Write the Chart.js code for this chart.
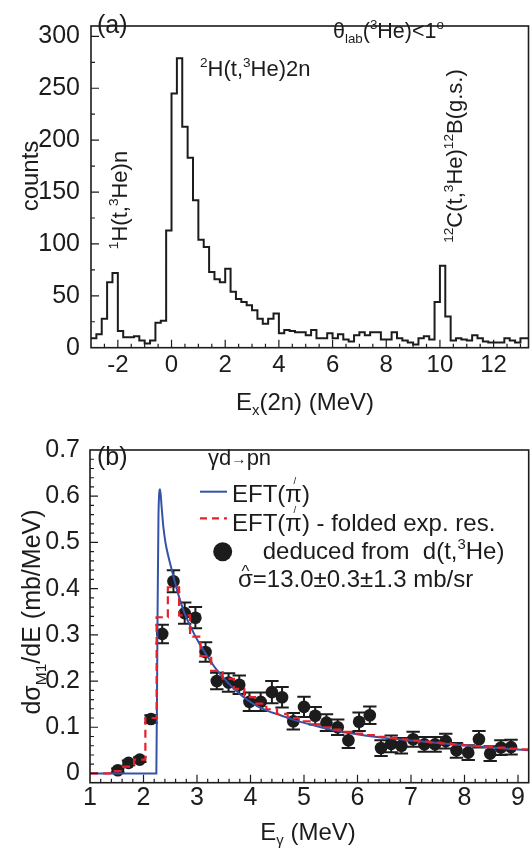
<!DOCTYPE html>
<html>
<head>
<meta charset="utf-8">
<title>2H(t,3He)2n spectrum and gamma d -> pn</title>
<script src="https://cdn.jsdelivr.net/npm/chart.js@4.4.1/dist/chart.umd.min.js"></script>
<style>
  html, body { margin: 0; padding: 0; background: #fff; }
  body { width: 532px; height: 851px; position: relative; overflow: hidden; }
  canvas { position: absolute; left: 0; }
  #chartA { top: 0; }
  #chartB { top: 425px; }
</style>
</head>
<body>
<canvas id="chartA" width="532" height="425"></canvas>
<canvas id="chartB" width="532" height="426"></canvas>
<script>
const FONT = '"Liberation Sans", Arial, Helvetica, sans-serif';
const INK = '#1c1c1c';
const BLUE = '#3453a6';
const RED = '#e5222b';

// (a) counts per 0.2 MeV bin; edges = lower edges plus the last upper edge
const histEdges = [-3.0, -2.8, -2.6, -2.4, -2.2, -2.0, -1.8, -1.6, -1.4, -1.2,
  -1.0, -0.8, -0.6, -0.4, -0.2, 0.0, 0.2, 0.4, 0.6, 0.8,
  1.0, 1.2, 1.4, 1.6, 1.8, 2.0, 2.2, 2.4, 2.6, 2.8,
  3.0, 3.2, 3.4, 3.6, 3.8, 4.0, 4.2, 4.4, 4.6, 4.8,
  5.0, 5.2, 5.4, 5.6, 5.8, 6.0, 6.2, 6.4, 6.6, 6.8,
  7.0, 7.2, 7.4, 7.6, 7.8, 8.0, 8.2, 8.4, 8.6, 8.8,
  9.0, 9.2, 9.4, 9.6, 9.8, 10.0, 10.2, 10.4, 10.6, 10.8,
  11.0, 11.2, 11.4, 11.6, 11.8, 12.0, 12.2, 12.4, 12.6, 12.8,
  13.0, 13.2, 13.4];
const histCounts = [9, 13, 28, 63, 72, 16, 10, 10, 11, 7,
  4, 7, 24, 26, 113, 245, 279, 213, 183, 142,
  104, 97, 73, 66, 63, 76, 54, 47, 44, 41,
  36, 28, 23, 28, 33, 14, 17, 16, 15, 15,
  12, 17, 9, 9, 14, 9, 13, 8, 6, 12,
  15, 12, 15, 15, 8, 8, 15, 9, 7, 5,
  3, 9, 11, 8, 44, 79, 30, 7, 9, 8,
  7, 12, 9, 6, 5, 5, 5, 9, 7, 5,
  9, 9];
const xTicksA = [-2, 0, 2, 4, 6, 8, 10, 12];
const yTicksA = [0, 50, 100, 150, 200, 250, 300];

// (b) deduced d(sigma_M1)/dE
const gammaE = [1.52, 1.72, 1.93, 2.14, 2.35, 2.56, 2.77, 2.97, 3.16, 3.37,
  3.59, 3.79, 3.98, 4.19, 4.40, 4.59, 4.80, 5.00, 5.21, 5.42,
  5.63, 5.83, 6.03, 6.23, 6.44, 6.63, 6.82, 7.04, 7.25, 7.45,
  7.65, 7.85, 8.07, 8.27, 8.48, 8.68, 8.87];
const dSigma = [0.007, 0.023, 0.030, 0.118, 0.302, 0.416, 0.347, 0.337, 0.263, 0.200,
  0.197, 0.192, 0.155, 0.155, 0.176, 0.165, 0.113, 0.144, 0.125, 0.110,
  0.100, 0.072, 0.112, 0.126, 0.055, 0.064, 0.060, 0.074, 0.063, 0.063,
  0.070, 0.050, 0.045, 0.074, 0.043, 0.056, 0.057];
const dSigmaErr = [0.004, 0.005, 0.005, 0.008, 0.020, 0.024, 0.023, 0.023, 0.021, 0.018,
  0.020, 0.020, 0.020, 0.020, 0.024, 0.022, 0.018, 0.022, 0.019, 0.018,
  0.017, 0.017, 0.020, 0.019, 0.017, 0.018, 0.017, 0.016, 0.016, 0.016,
  0.016, 0.016, 0.016, 0.018, 0.016, 0.016, 0.016];
// EFT(pionless) curve
const eftE = [1.0, 2.24, 2.26, 2.28, 2.31, 2.34, 2.37, 2.41, 2.45, 2.53,
  2.62, 2.74, 2.87, 3.03, 3.18, 3.37, 3.59, 3.81, 4.06, 4.31,
  4.56, 4.81, 5.02, 5.39, 5.77, 6.14, 6.51, 7.13, 7.76, 8.38, 9.2];
const eftSigma = [0, 0, 0.30, 0.56, 0.615, 0.575, 0.535, 0.50, 0.477, 0.44,
  0.40, 0.355, 0.32, 0.284, 0.256, 0.224, 0.195, 0.171, 0.150, 0.136,
  0.126, 0.116, 0.109, 0.098, 0.089, 0.082, 0.077, 0.070, 0.063, 0.057, 0.050];
// EFT folded with experimental resolution (bin centres)
const foldE = [1.0, 1.32, 1.52, 1.72, 1.93, 2.14, 2.35, 2.56, 2.77, 2.97,
  3.16, 3.37, 3.59, 3.79, 3.98, 4.19, 4.40, 4.59, 4.80, 5.00,
  5.21, 5.42, 5.63, 5.83, 6.03, 6.23, 6.44, 6.63, 6.82, 7.04,
  7.25, 7.45, 7.65, 7.85, 8.07, 8.27, 8.48, 8.68, 8.87, 9.2];
const foldSigma = [0, 0, 0.005, 0.015, 0.030, 0.120, 0.338, 0.403, 0.342, 0.296,
  0.254, 0.222, 0.205, 0.183, 0.165, 0.151, 0.139, 0.129, 0.120, 0.113,
  0.106, 0.100, 0.095, 0.090, 0.086, 0.083, 0.079, 0.077, 0.074, 0.071,
  0.069, 0.067, 0.065, 0.063, 0.061, 0.059, 0.057, 0.056, 0.054, 0.052];
const xTicksB = [1, 2, 3, 4, 5, 6, 7, 8, 9];
const yTicksB = [0, 0.1, 0.2, 0.3, 0.4, 0.5, 0.6, 0.7];

// text with sub/superscripts; k: 'sub' | 'sup' | 'sm' (scaled) | 'acc' (accent over previous glyph)
function drawRich(ctx, parts, x, y, size, align, rot) {
  const items = parts.map(p => {
    const k = p.k || '';
    const s = (k === 'sub' || k === 'sup') ? size * 0.62 : (k === 'acc' || k === 'sm') ? size * (p.r || 0.5) : size;
    ctx.font = s + 'px ' + FONT;
    return { t: p.t, k, s, w: ctx.measureText(p.t).width, dy: p.dy || 0, dx: p.dx || 0 };
  });
  const total = items.reduce((sum, it) => sum + (it.k === 'acc' ? 0 : it.w), 0);
  ctx.save();
  ctx.translate(x, y);
  if (rot) ctx.rotate(rot);
  ctx.textAlign = 'left';
  ctx.textBaseline = 'alphabetic';
  let cx = align === 'center' ? -total / 2 : align === 'right' ? -total : 0;
  let last = 0;
  for (const it of items) {
    ctx.font = it.s + 'px ' + FONT;
    if (it.k === 'acc') {
      ctx.fillText(it.t, cx - last / 2 - it.w / 2 + it.dx * size, it.dy * size);
      continue;
    }
    const dy = it.k === 'sub' ? size * 0.22 : it.k === 'sup' ? -size * 0.4 : it.dy * size;
    ctx.fillText(it.t, cx, dy);
    cx += it.w;
    last = it.w;
  }
  ctx.restore();
}

// box around the plot and inward ticks
function frameAndTicks(chart, t) {
  const { ctx, chartArea: a, scales: { x, y } } = chart;
  const isMajor = (v, step) => Math.abs(v / step - Math.round(v / step)) < 1e-6;
  ctx.save();
  ctx.strokeStyle = INK;
  ctx.lineWidth = 1.2;
  ctx.beginPath();
  for (let i = 1; ; i++) {
    const v = x.min + i * t.xMinor;
    if (v >= x.max - 1e-9) break;
    const px = x.getPixelForValue(v);
    const len = isMajor(v, t.xMajor) ? 8 : 4;
    ctx.moveTo(px, a.bottom); ctx.lineTo(px, a.bottom - len);
  }
  for (let i = 1; ; i++) {
    const v = y.min + i * t.yMinor;
    if (v >= y.max - 1e-9) break;
    const py = y.getPixelForValue(v);
    const len = isMajor(v, t.yMajor) ? 8 : 4;
    ctx.moveTo(a.left, py); ctx.lineTo(a.left + len, py);
  }
  ctx.stroke();
  ctx.lineWidth = 1.6;
  ctx.strokeRect(a.left, a.top, a.right - a.left, a.bottom - a.top);
  ctx.restore();
}

const fixTicks = list => scale => { scale.ticks = list.map(v => ({ value: v })); };
const tickFont = size => ({ family: FONT, size });

// ---------- panel (a) ----------
const histPoints = histCounts.map((c, i) => ({ x: histEdges[i], y: c }));
histPoints.push({ x: histEdges[histCounts.length], y: histCounts[histCounts.length - 1] });

new Chart(document.getElementById('chartA'), {
  type: 'scatter',
  data: {
    datasets: [{
      data: histPoints,
      showLine: true,
      stepped: true,
      borderColor: INK,
      borderWidth: 2,
      pointRadius: 0,
      fill: false
    }]
  },
  options: {
    responsive: false,
    animation: false,
    events: [],
    layout: { autoPadding: false, padding: { top: 5, right: 3.5, bottom: 0, left: 0 } },
    plugins: { legend: { display: false }, tooltip: { enabled: false } },
    scales: {
      x: {
        type: 'linear', min: -3, max: 13.3,
        afterBuildTicks: fixTicks(xTicksA),
        afterFit: s => { s.height = 77.3; },
        grid: { display: false, drawTicks: false },
        border: { display: false },
        ticks: { font: tickFont(24), color: INK, padding: 3, maxRotation: 0, autoSkip: false }
      },
      y: {
        type: 'linear', min: 0, max: 310,
        afterBuildTicks: fixTicks(yTicksA),
        afterFit: s => { s.width = 91; },
        grid: { display: false, drawTicks: false },
        border: { display: false },
        ticks: { font: tickFont(25), color: INK, padding: 11, autoSkip: false }
      }
    }
  },
  plugins: [{
    id: 'decorA',
    afterDraw(chart) {
      const ctx = chart.ctx;
      frameAndTicks(chart, { xMinor: 0.5, xMajor: 2, yMinor: 25, yMajor: 50 });
      ctx.fillStyle = INK;
      drawRich(ctx, [{ t: '(a)' }], 97, 33, 25, 'left');
      drawRich(ctx, [{ t: 'θ' }, { t: 'lab', k: 'sub' }, { t: '(' }, { t: '3', k: 'sup' },
        { t: 'He)<1' }, { t: 'o', k: 'sup' }], 333, 38, 21.5, 'left');
      drawRich(ctx, [{ t: '2', k: 'sup' }, { t: 'H(t,' }, { t: '3', k: 'sup' }, { t: 'He)2n' }],
        200, 76, 22, 'left');
      drawRich(ctx, [{ t: '1', k: 'sup' }, { t: 'H(t,' }, { t: '3', k: 'sup' }, { t: 'He)n' }],
        127, 200, 22, 'center', -Math.PI / 2);
      drawRich(ctx, [{ t: '12', k: 'sup' }, { t: 'C(t,' }, { t: '3', k: 'sup' }, { t: 'He)' },
        { t: '12', k: 'sup' }, { t: 'B(g.s.)' }], 462, 156, 22, 'center', -Math.PI / 2);
      drawRich(ctx, [{ t: 'counts' }], 38, 176, 24, 'center', -Math.PI / 2);
      drawRich(ctx, [{ t: 'E' }, { t: 'x', k: 'sub' }, { t: '(2n) (MeV)' }], 305, 410, 24, 'center');
    }
  }]
});

// ---------- panel (b) ----------
new Chart(document.getElementById('chartB'), {
  type: 'scatter',
  data: {
    datasets: [
      {
        label: 'EFT folded',
        data: foldE.map((e, i) => ({ x: e, y: foldSigma[i] })),
        showLine: true,
        stepped: 'middle',
        borderColor: RED,
        borderWidth: 2.2,
        borderDash: [8, 5],
        pointRadius: 0
      },
      {
        label: 'EFT',
        data: eftE.map((e, i) => ({ x: e, y: eftSigma[i] })),
        showLine: true,
        cubicInterpolationMode: 'monotone',
        borderColor: BLUE,
        borderWidth: 2,
        pointRadius: 0
      },
      {
        label: 'deduced',
        data: gammaE.map((e, i) => ({ x: e, y: dSigma[i] })),
        showLine: false,
        pointRadius: 6.3,
        pointBackgroundColor: INK,
        pointBorderColor: INK,
        pointBorderWidth: 0
      }
    ]
  },
  options: {
    responsive: false,
    animation: false,
    events: [],
    layout: { autoPadding: false, padding: { top: 15.8, right: 3.3, bottom: 0, left: 0 } },
    plugins: { legend: { display: false }, tooltip: { enabled: false } },
    scales: {
      x: {
        type: 'linear', min: 1, max: 9.2,
        afterBuildTicks: fixTicks(xTicksB),
        afterFit: s => { s.height = 68.3; },
        grid: { display: false, drawTicks: false },
        border: { display: false },
        ticks: { font: tickFont(25), color: INK, padding: 0, maxRotation: 0, autoSkip: false }
      },
      y: {
        type: 'linear', min: -0.02, max: 0.7,
        afterBuildTicks: fixTicks(yTicksB),
        afterFit: s => { s.width = 90; },
        grid: { display: false, drawTicks: false },
        border: { display: false },
        ticks: {
          font: tickFont(25), color: INK, padding: 10, autoSkip: false,
          callback: v => (v === 0 ? '0' : v.toFixed(1))
        }
      }
    }
  },
  plugins: [{
    id: 'decorB',
    beforeDatasetsDraw(chart) {
      const { ctx, scales: { x, y } } = chart;
      ctx.save();
      ctx.strokeStyle = INK;
      ctx.lineWidth = 2;
      ctx.beginPath();
      gammaE.forEach((e, i) => {
        const px = x.getPixelForValue(e);
        const lo = y.getPixelForValue(dSigma[i] - dSigmaErr[i]);
        const hi = y.getPixelForValue(dSigma[i] + dSigmaErr[i]);
        ctx.moveTo(px, lo); ctx.lineTo(px, hi);
        ctx.moveTo(px - 6.7, lo); ctx.lineTo(px + 6.7, lo);
        ctx.moveTo(px - 6.7, hi); ctx.lineTo(px + 6.7, hi);
      });
      ctx.stroke();
      ctx.restore();
    },
    afterDraw(chart) {
      const ctx = chart.ctx;
      frameAndTicks(chart, { xMinor: 0.2, xMajor: 1, yMinor: 0.02, yMajor: 0.1 });
      ctx.save();
      // legend samples
      ctx.strokeStyle = BLUE; ctx.lineWidth = 2;
      ctx.beginPath(); ctx.moveTo(200, 66.7); ctx.lineTo(227, 66.7); ctx.stroke();
      ctx.strokeStyle = RED; ctx.lineWidth = 2.2; ctx.setLineDash([7, 5]);
      ctx.beginPath(); ctx.moveTo(200, 93.3); ctx.lineTo(227, 93.3); ctx.stroke();
      ctx.setLineDash([]);
      ctx.fillStyle = INK;
      ctx.beginPath(); ctx.arc(222.7, 126.7, 9.5, 0, Math.PI * 2); ctx.fill();
      ctx.restore();

      ctx.fillStyle = INK;
      drawRich(ctx, [{ t: '(b)' }], 97, 40, 25, 'left');
      drawRich(ctx, [{ t: 'γd' }, { t: '→', k: 'sm', r: 0.7, dy: -0.05 }, { t: 'pn' }], 208, 40, 22, 'left');
      const pi = [{ t: 'π' }, { t: '/', k: 'acc', r: 0.4, dy: -0.72, dx: 0.05 }];
      drawRich(ctx, [{ t: 'EFT(' }, ...pi, { t: ')' }], 232, 76.5, 24, 'left');
      drawRich(ctx, [{ t: 'EFT(' }, ...pi, { t: ') - folded exp. res.' }], 232, 105.5, 24, 'left');
      drawRich(ctx, [{ t: 'deduced from  d(t,' }, { t: '3', k: 'sup' }, { t: 'He)' }], 262.7, 134, 24, 'left');
      drawRich(ctx, [{ t: 'σ' }, { t: '^', k: 'acc', r: 0.7, dy: -0.4 }, { t: '=13.0±0.3±1.3 mb/sr' }],
        238, 162, 24, 'left');
      drawRich(ctx, [{ t: 'dσ' }, { t: 'M1', k: 'sub' }, { t: '/dE (mb/MeV)' }], 40, 187, 25, 'center', -Math.PI / 2);
      drawRich(ctx, [{ t: 'E' }, { t: 'γ', k: 'sub' }, { t: ' (MeV)' }], 308, 415, 24, 'center');
    }
  }]
});
</script>
</body>
</html>
